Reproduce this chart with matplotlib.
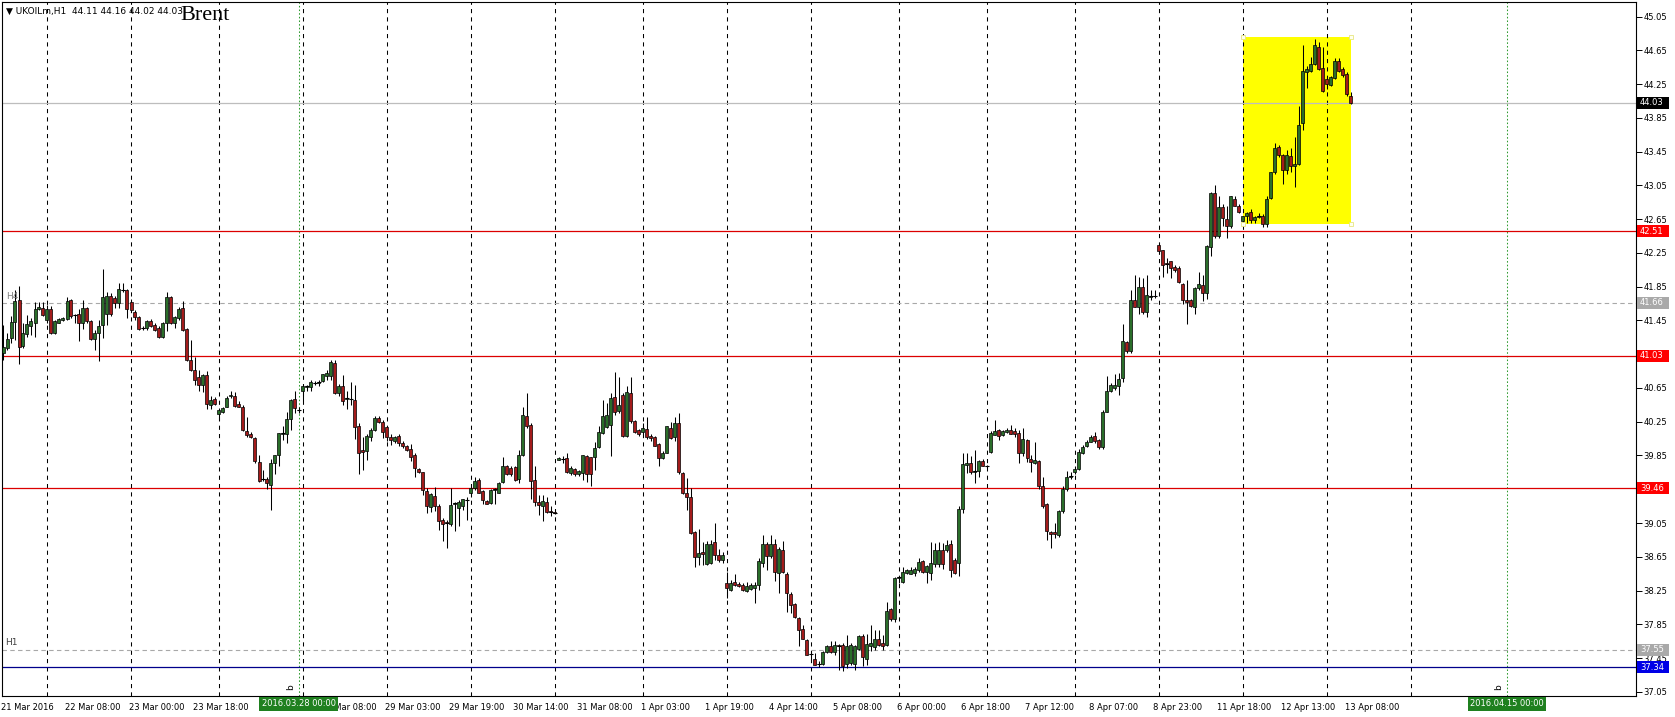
import numpy as np
import matplotlib
matplotlib.use("Agg")
import matplotlib.pyplot as plt
from matplotlib.patches import Rectangle
import matplotlib.transforms as mtransforms

# UKOILm H1 candles, 21 Mar - 13 Apr 2016 (one value per bar)
opens = [
    41.07, 41.12, 41.24, 41.43, 41.69, 41.15, 41.29, 41.39, 41.42, 41.59,
    41.60, 41.46, 41.59, 41.30, 41.42, 41.45, 41.47, 41.69, 41.52, 41.53,
    41.42, 41.60, 41.44, 41.23, 41.30, 41.40, 41.53, 41.74, 41.72, 41.66,
    41.81, 41.81, 41.67, 41.55, 41.49, 41.36, 41.36, 41.44, 41.40, 41.36,
    41.25, 41.42, 41.73, 41.42, 41.48, 41.60, 41.35, 40.98, 40.86, 40.78,
    40.68, 40.80, 40.45, 40.52, 40.34, 40.37, 40.43, 40.55, 40.56, 40.46,
    40.42, 40.14, 40.11, 40.06, 39.77, 39.57, 39.57, 39.50, 39.76, 39.85,
    40.11, 40.11, 40.28, 40.52, 40.39, 40.61, 40.66, 40.66, 40.71, 40.71,
    40.73, 40.79, 40.79, 40.95, 40.59, 40.67, 40.52, 40.52, 40.51, 40.20,
    39.92, 39.90, 40.07, 40.15, 40.29, 40.25, 40.19, 40.07, 40.02, 40.08,
    40.00, 39.96, 39.93, 39.85, 39.69, 39.65, 39.43, 39.24, 39.37, 39.25,
    39.09, 39.06, 39.04, 39.28, 39.23, 39.25, 39.32, 39.40, 39.47, 39.56,
    39.43, 39.31, 39.29, 39.44, 39.41, 39.54, 39.73, 39.70, 39.71, 39.57,
    39.85, 40.32, 40.21, 39.56, 39.30, 39.25, 39.30, 39.19, 39.18, 39.80,
    39.81, 39.82, 39.64, 39.69, 39.63, 39.64, 39.84, 39.83, 39.83, 39.95,
    40.12, 40.19, 40.21, 40.54, 40.38, 40.57, 40.08, 40.59, 40.26, 40.15,
    40.13, 40.16, 40.08, 40.07, 39.99, 39.82, 39.88, 40.18, 40.07, 40.24,
    39.64, 39.41, 39.36, 38.94, 38.65, 38.71, 38.57, 38.58, 38.82, 38.67,
    38.61, 38.34, 38.26, 38.35, 38.33, 38.32, 38.25, 38.27, 38.28, 38.32,
    38.58, 38.80, 38.66, 38.80, 38.46, 38.73, 38.45, 38.21, 38.09, 37.93,
    37.79, 37.66, 37.50, 37.44, 37.38, 37.38, 37.52, 37.59, 37.52, 37.60,
    37.61, 37.38, 37.39, 37.38, 37.56, 37.71, 37.44, 37.59, 37.58, 37.67,
    37.63, 37.61, 38.03, 37.91, 38.40, 38.35, 38.46, 38.45, 38.46, 38.49,
    38.60, 38.47, 38.46, 38.56, 38.56, 38.73, 38.73, 38.80, 38.61, 38.58,
    39.22, 39.74, 39.76, 39.66, 39.67, 39.79, 39.72, 39.89, 40.09, 40.15,
    40.09, 40.13, 40.15, 40.14, 40.12, 39.88, 40.03, 39.81, 39.76, 39.79,
    39.49, 39.27, 38.94, 38.94, 38.91, 39.19, 39.45, 39.60, 39.65, 39.69,
    39.88, 39.96, 40.01, 40.08, 40.03, 39.95, 40.37, 40.61, 40.65, 40.67,
    40.77, 41.19, 41.09, 41.69, 41.61, 41.85, 41.55, 41.73, 41.74, 42.35,
    42.28, 42.13, 42.15, 42.08, 42.07, 41.88, 41.69, 41.69, 41.61, 41.83,
    41.87, 41.77, 42.32, 42.96, 42.45, 42.79, 42.65, 42.57, 42.89, 42.81,
    42.63, 42.69, 42.73, 42.64, 42.68, 42.69, 42.59, 42.90, 43.21, 43.50,
    43.41, 43.23, 43.40, 43.28, 43.31, 43.79, 44.40, 44.41, 44.49, 44.69,
    44.44, 44.31, 44.24, 44.32, 44.53, 44.43, 44.37, 44.11,
]
highs = [
    41.40, 41.30, 41.50, 41.81, 41.86, 41.42, 41.52, 41.48, 41.67, 41.67,
    41.67, 41.63, 41.62, 41.45, 41.48, 41.49, 41.73, 41.70, 41.53, 41.59,
    41.69, 41.61, 41.45, 41.34, 41.46, 42.06, 41.79, 41.77, 41.74, 41.90,
    41.90, 41.82, 41.70, 41.58, 41.50, 41.38, 41.46, 41.47, 41.42, 41.38,
    41.43, 41.79, 41.74, 41.50, 41.61, 41.68, 41.36, 41.22, 41.02, 40.86,
    40.82, 40.85, 40.55, 40.54, 40.41, 40.43, 40.56, 40.61, 40.60, 40.50,
    40.45, 40.31, 40.13, 40.07, 39.85, 39.68, 39.60, 39.81, 39.86, 40.12,
    40.20, 40.37, 40.52, 40.61, 40.42, 40.70, 40.68, 40.74, 40.73, 40.74,
    40.82, 40.86, 40.98, 40.98, 40.70, 40.80, 40.61, 40.72, 40.68, 40.23,
    40.07, 40.11, 40.17, 40.32, 40.32, 40.27, 40.20, 40.11, 40.08, 40.11,
    40.02, 39.98, 39.99, 39.88, 39.70, 39.66, 39.47, 39.40, 39.48, 39.28,
    39.11, 39.09, 39.46, 39.30, 39.32, 39.34, 39.36, 39.48, 39.59, 39.58,
    39.44, 39.32, 39.45, 39.47, 39.54, 39.83, 39.74, 39.72, 39.72, 39.92,
    40.43, 40.59, 40.23, 39.72, 39.38, 39.38, 39.36, 39.25, 39.21, 39.83,
    39.84, 39.88, 39.72, 39.70, 39.68, 39.85, 39.85, 39.83, 40.01, 40.20,
    40.51, 40.47, 40.59, 40.84, 40.78, 40.59, 40.67, 40.78, 40.27, 40.16,
    40.23, 40.31, 40.11, 40.08, 40.00, 39.90, 40.20, 40.25, 40.31, 40.35,
    39.66, 39.58, 39.46, 38.95, 38.98, 38.83, 38.84, 38.85, 39.05, 38.74,
    38.71, 38.47, 38.37, 38.44, 38.35, 38.34, 38.35, 38.34, 38.35, 38.63,
    38.91, 38.83, 38.91, 38.86, 38.77, 38.84, 38.47, 38.23, 38.10, 37.94,
    37.84, 37.67, 37.53, 37.51, 37.41, 37.53, 37.61, 37.65, 37.65, 37.62,
    37.63, 37.72, 37.63, 37.60, 37.72, 37.74, 37.74, 37.84, 37.78, 37.78,
    37.72, 38.11, 38.04, 38.41, 38.42, 38.53, 38.50, 38.53, 38.53, 38.63,
    38.61, 38.55, 38.83, 38.81, 38.83, 38.81, 38.85, 38.85, 38.63, 39.25,
    39.88, 39.88, 39.84, 39.92, 39.80, 39.81, 39.74, 40.14, 40.27, 40.16,
    40.15, 40.17, 40.21, 40.18, 40.15, 40.17, 40.04, 39.85, 40.01, 39.80,
    39.59, 39.29, 38.95, 39.05, 39.21, 39.49, 39.67, 39.65, 39.73, 39.93,
    39.97, 40.03, 40.09, 40.13, 40.05, 40.39, 40.79, 40.71, 40.81, 40.83,
    41.41, 41.21, 41.81, 41.99, 41.97, 41.95, 41.99, 41.81, 41.81, 42.37,
    42.29, 42.19, 42.16, 42.11, 42.09, 41.89, 41.93, 41.71, 41.85, 42.03,
    41.99, 42.35, 42.97, 43.05, 42.93, 42.83, 42.81, 42.93, 42.93, 42.83,
    42.69, 42.73, 42.77, 42.69, 42.72, 42.71, 42.92, 43.21, 43.55, 43.53,
    43.42, 43.47, 43.49, 43.63, 43.99, 44.71, 44.47, 44.57, 44.79, 44.75,
    44.69, 44.33, 44.35, 44.56, 44.56, 44.45, 44.39, 44.16,
]
lows = [
    40.98, 41.10, 41.18, 41.22, 40.93, 41.12, 41.26, 41.28, 41.26, 41.57,
    41.50, 41.42, 41.29, 41.29, 41.42, 41.44, 41.45, 41.48, 41.42, 41.21,
    41.35, 41.42, 41.22, 41.10, 40.97, 41.24, 41.40, 41.50, 41.60, 41.60,
    41.79, 41.48, 41.55, 41.46, 41.34, 41.34, 41.34, 41.37, 41.33, 41.24,
    41.24, 41.33, 41.41, 41.36, 41.45, 41.33, 40.97, 40.85, 40.69, 40.62,
    40.60, 40.40, 40.40, 40.45, 40.27, 40.35, 40.42, 40.53, 40.42, 40.42,
    40.14, 40.07, 40.06, 39.76, 39.54, 39.55, 39.45, 39.20, 39.63, 39.73,
    40.03, 40.00, 40.15, 40.35, 40.35, 40.49, 40.61, 40.62, 40.69, 40.67,
    40.72, 40.75, 40.74, 40.58, 40.55, 40.45, 40.40, 40.45, 40.04, 39.63,
    39.68, 39.80, 40.02, 40.14, 40.24, 40.06, 40.02, 39.98, 40.00, 39.96,
    39.94, 39.90, 39.78, 39.60, 39.64, 39.38, 39.17, 39.18, 39.19, 38.97,
    38.84, 38.75, 39.01, 38.95, 39.01, 39.21, 39.09, 39.36, 39.44, 39.40,
    39.28, 39.27, 39.28, 39.28, 39.40, 39.52, 39.62, 39.61, 39.55, 39.52,
    39.84, 40.18, 39.34, 39.25, 39.14, 39.07, 39.17, 39.13, 39.16, 39.80,
    39.76, 39.64, 39.62, 39.61, 39.61, 39.56, 39.54, 39.49, 39.68, 39.94,
    40.11, 40.17, 39.84, 40.33, 40.35, 40.07, 40.07, 40.23, 40.12, 40.08,
    40.07, 40.04, 40.02, 39.96, 39.72, 39.81, 39.88, 40.04, 40.02, 39.63,
    39.39, 39.21, 38.92, 38.53, 38.55, 38.55, 38.55, 38.57, 38.61, 38.59,
    38.58, 38.16, 38.24, 38.30, 38.29, 38.24, 38.23, 38.26, 38.10, 38.26,
    38.53, 38.49, 38.63, 38.36, 38.22, 38.46, 38.00, 37.98, 37.92, 37.59,
    37.67, 37.48, 37.44, 37.37, 37.34, 37.37, 37.51, 37.51, 37.49, 37.31,
    37.30, 37.33, 37.37, 37.31, 37.55, 37.35, 37.37, 37.53, 37.55, 37.59,
    37.55, 37.59, 37.89, 37.88, 38.34, 38.34, 38.44, 38.44, 38.42, 38.47,
    38.46, 38.34, 38.38, 38.53, 38.53, 38.51, 38.71, 38.41, 38.45, 38.42,
    39.17, 39.64, 39.63, 39.52, 39.60, 39.72, 39.70, 39.88, 40.09, 40.03,
    40.08, 40.12, 40.11, 40.07, 39.76, 39.84, 39.77, 39.65, 39.75, 39.45,
    39.23, 38.85, 38.75, 38.87, 38.89, 39.17, 39.43, 39.57, 39.63, 39.68,
    39.87, 39.95, 40.01, 40.00, 39.93, 39.93, 40.36, 40.60, 40.63, 40.57,
    40.72, 41.07, 41.07, 41.61, 41.53, 41.53, 41.49, 41.69, 41.72, 42.25,
    41.97, 42.01, 41.95, 42.03, 41.89, 41.65, 41.41, 41.61, 41.53, 41.81,
    41.68, 41.71, 42.21, 42.43, 42.43, 42.57, 42.43, 42.55, 42.81, 42.72,
    42.57, 42.61, 42.61, 42.61, 42.67, 42.56, 42.56, 42.89, 43.19, 43.39,
    43.07, 43.19, 43.21, 43.03, 43.29, 43.71, 44.21, 44.40, 44.48, 44.42,
    44.16, 44.19, 44.23, 44.31, 44.40, 44.33, 44.11, 44.02,
]
closes = [
    41.13, 41.23, 41.43, 41.68, 41.14, 41.30, 41.41, 41.44, 41.59, 41.61,
    41.52, 41.59, 41.30, 41.44, 41.47, 41.48, 41.68, 41.50, 41.51, 41.42,
    41.60, 41.44, 41.23, 41.30, 41.39, 41.73, 41.74, 41.53, 41.66, 41.82,
    41.81, 41.59, 41.58, 41.49, 41.35, 41.36, 41.44, 41.39, 41.34, 41.25,
    41.42, 41.73, 41.42, 41.49, 41.59, 41.34, 40.98, 40.86, 40.75, 40.69,
    40.80, 40.46, 40.51, 40.46, 40.39, 40.41, 40.53, 40.57, 40.44, 40.42,
    40.15, 40.09, 40.07, 39.78, 39.55, 39.57, 39.52, 39.76, 39.85, 40.12,
    40.12, 40.28, 40.51, 40.41, 40.39, 40.67, 40.67, 40.72, 40.71, 40.72,
    40.82, 40.83, 40.96, 40.59, 40.67, 40.50, 40.53, 40.52, 40.19, 39.88,
    39.89, 40.08, 40.15, 40.30, 40.25, 40.13, 40.07, 40.03, 40.07, 40.00,
    39.96, 39.91, 39.83, 39.70, 39.65, 39.44, 39.25, 39.39, 39.25, 39.07,
    39.04, 39.05, 39.26, 39.29, 39.30, 39.33, 39.32, 39.46, 39.55, 39.41,
    39.32, 39.28, 39.44, 39.45, 39.53, 39.73, 39.63, 39.63, 39.56, 39.86,
    40.33, 40.20, 39.55, 39.30, 39.26, 39.31, 39.18, 39.18, 39.17, 39.82,
    39.81, 39.66, 39.70, 39.63, 39.67, 39.85, 39.63, 39.63, 39.94, 40.13,
    40.32, 40.33, 40.53, 40.37, 40.45, 40.08, 40.60, 40.26, 40.13, 40.10,
    40.17, 40.07, 40.06, 39.96, 39.82, 39.88, 40.20, 40.06, 40.24, 39.65,
    39.40, 39.36, 38.93, 38.65, 38.70, 38.68, 38.80, 38.80, 38.67, 38.61,
    38.67, 38.28, 38.34, 38.32, 38.30, 38.26, 38.30, 38.32, 38.32, 38.60,
    38.80, 38.66, 38.80, 38.47, 38.74, 38.47, 38.22, 38.08, 37.94, 37.78,
    37.67, 37.49, 37.50, 37.37, 37.38, 37.52, 37.59, 37.52, 37.61, 37.59,
    37.36, 37.59, 37.61, 37.59, 37.71, 37.46, 37.62, 37.63, 37.67, 37.61,
    37.59, 38.01, 37.91, 38.40, 38.41, 38.47, 38.49, 38.49, 38.50, 38.59,
    38.47, 38.54, 38.58, 38.73, 38.73, 38.56, 38.79, 38.49, 38.46, 39.22,
    39.75, 39.76, 39.66, 39.67, 39.78, 39.72, 39.73, 40.12, 40.14, 40.08,
    40.14, 40.15, 40.11, 40.11, 39.88, 40.04, 39.82, 39.77, 39.80, 39.49,
    39.25, 38.95, 38.92, 38.92, 39.19, 39.45, 39.59, 39.61, 39.69, 39.89,
    39.95, 40.01, 40.07, 40.02, 39.95, 40.37, 40.61, 40.69, 40.69, 40.76,
    41.21, 41.09, 41.69, 41.61, 41.85, 41.55, 41.75, 41.74, 41.74, 42.27,
    42.11, 42.12, 42.07, 42.05, 41.91, 41.69, 41.67, 41.62, 41.83, 41.88,
    41.77, 42.33, 42.96, 42.45, 42.79, 42.67, 42.57, 42.92, 42.81, 42.73,
    42.69, 42.72, 42.64, 42.68, 42.69, 42.59, 42.89, 43.21, 43.49, 43.41,
    43.23, 43.41, 43.28, 43.31, 43.77, 44.41, 44.43, 44.49, 44.71, 44.43,
    44.17, 44.25, 44.33, 44.52, 44.41, 44.36, 44.13, 44.03,
]

# time axis labels (every 16 bars) and first bar of each trading day
label_bars = [0, 16, 32, 48, 64, 80, 96, 112, 128, 144, 160, 176, 192, 208,
              224, 240, 256, 272, 288, 304, 320, 336]
time_labels = ["21 Mar 2016", "22 Mar 08:00", "23 Mar 00:00", "23 Mar 18:00",
               "24 Mar 13:00", "28 Mar 08:00", "29 Mar 03:00", "29 Mar 19:00",
               "30 Mar 14:00", "31 Mar 08:00", "1 Apr 03:00", "1 Apr 19:00",
               "4 Apr 14:00", "5 Apr 08:00", "6 Apr 00:00", "6 Apr 18:00",
               "7 Apr 12:00", "8 Apr 07:00", "8 Apr 23:00", "11 Apr 18:00",
               "12 Apr 13:00", "13 Apr 08:00"]
day_starts = [11, 32, 54, 75, 96, 117, 138, 160, 181, 202, 224, 246, 268,
              289, 310, 331, 352]
price_ticks = [37.05, 37.45, 37.85, 38.25, 38.65, 39.05, 39.45, 39.85, 40.25,
               40.65, 41.05, 41.45, 41.85, 42.25, 42.65, 43.05, 43.45, 43.85,
               44.25, 44.65, 45.05]

# levels
red_levels = [42.51, 41.03, 39.46]
support_level = 37.34
h4_level = 41.66
h1_level = 37.55
bid = 44.03
# yellow box (bars, prices)
box_bars = [310, 337]
box_prices = [42.59, 44.81]
# vertical date markers
marker_bars = [74, 376]
marker_texts = ["2016.03.28 00:00", "2016.04.15 00:00"]

W, H = 1675, 717
fig = plt.figure(figsize=(W / 100, H / 100), dpi=100)
ax = fig.add_axes([2 / W, 21 / H, 1634 / W, 694 / H])
ax.set_xlim(-0.25, 408.25)
ax.set_ylim(37.0, 45.224)

# yellow rectangle
ax.add_patch(Rectangle((box_bars[0], box_prices[0]), box_bars[1] - box_bars[0],
                       box_prices[1] - box_prices[0], fc="#ffff00", ec="none", zorder=1))
ax.plot([box_bars[0], box_bars[1], box_bars[0], box_bars[1]],
        [box_prices[0], box_prices[0], box_prices[1], box_prices[1]],
        "s", ms=3, mfc="#fffff0", mec="#e6e680", mew=0.6, zorder=6)

# day grid
for d in day_starts:
    ax.axvline(d, color="black", lw=0.75, ls=(0, (4, 4)), zorder=2)
for m in marker_bars:
    ax.axvline(m, color="#2e9a2e", lw=0.75, ls=(0, (1.5, 2)), zorder=2)

# horizontal levels
for lv in red_levels:
    ax.axhline(lv, color="#dc0000", lw=0.9, zorder=2)
ax.axhline(support_level, color="#00008b", lw=0.9, zorder=2)
ax.axhline(h4_level, color="#a8a8a8", lw=0.8, ls=(0, (4, 3)), zorder=2)
ax.axhline(h1_level, color="#a8a8a8", lw=0.8, ls=(0, (4, 3)), zorder=2)
ax.axhline(bid, color="#bdbdbd", lw=0.9, zorder=2)

# candles
o = np.array(opens); h = np.array(highs); l = np.array(lows); c = np.array(closes)
x = np.arange(len(o))
ax.vlines(x, l, h, color="black", lw=0.75, zorder=3)
up = c >= o
cols = np.where(up, "#2a6e2a", "#a31b1b")
ax.bar(x, np.abs(c - o), bottom=np.minimum(o, c), width=0.75, color=cols,
       edgecolor="black", linewidth=0.5, zorder=4)
flat = np.abs(c - o) < 0.015
ax.hlines(c[flat], x[flat] - 0.45, x[flat] + 0.45, color="black", lw=0.8, zorder=5)

# price boxes on the right (fixed-size boxes covering the tick labels)
ytr = ax.get_yaxis_transform()
box_w = 32 / 1634
box_h = 12 / 84.4
box_levels = [bid, h4_level, h1_level, support_level] + red_levels

# axes styling
for s in ax.spines.values():
    s.set_color("black")
    s.set_linewidth(0.8)
ax.yaxis.tick_right()
ax.set_yticks(price_ticks)
# labels that sit fully under a price box are not visible in the terminal
ax.set_yticklabels(["" if min(abs(v - b) for b in box_levels) < 0.04 else f"{v:.2f}"
                    for v in price_ticks])
ax.tick_params(axis="y", length=4, width=0.7, pad=1.5, labelsize=6, colors="black")
ax.set_xticks(label_bars)
# the label under the 2016.03.28 marker box is hidden
ax.set_xticklabels(["" if b == 64 else t for b, t in zip(label_bars, time_labels)],
                   ha="left")
ax.tick_params(axis="x", length=0, pad=5, labelsize=6)
off = mtransforms.ScaledTranslation(-2 / 100, 0, fig.dpi_scale_trans)
for t in ax.get_xticklabels():
    t.set_transform(t.get_transform() + off)


def price_box(level, fc):
    ax.add_patch(Rectangle((1.0006, level - box_h / 2), box_w, box_h,
                           transform=ytr, fc=fc, ec="none", clip_on=False, zorder=9))
    ax.text(1.0006 + 3 / 1634, level, f"{level:.2f}", transform=ytr,
            ha="left", va="center", fontsize=6, color="white", clip_on=False,
            zorder=10)


price_box(bid, "black")
for lv in red_levels:
    price_box(lv, "#ff0000")
price_box(h4_level, "#a9a9a9")
price_box(h1_level, "#a9a9a9")
price_box(support_level, "#0000e6")

# date markers below
xt = mtransforms.blended_transform_factory(ax.transData, ax.transAxes)
for m, txt in zip(marker_bars, marker_texts):
    ax.text(m, -0.005, txt, transform=xt, ha="center", va="top", fontsize=6,
            color="white", clip_on=False, zorder=10,
            bbox=dict(boxstyle="square,pad=0.3", fc="#1f801f", ec="none"))
    ax.text(m - 2, 37.1, "b", rotation=90, fontsize=6.5, color="black",
            ha="center", va="center", zorder=6)

# labels inside
ax.text(0.8, 41.74, "H4", fontsize=6.5, color="#808080", va="center", ha="left",
        zorder=8)
ax.text(0.6, 37.63, "H1", fontsize=6.5, color="#404040", va="center", ha="left",
        zorder=8)
fig.text(6 / W, 1 - 11 / H, "\u25bc UKOILm,H1  44.11 44.16 44.02 44.03",
         fontsize=6.5, va="center", ha="left")
fig.text(180 / W, 1 - 15 / H, "Brent", family="Liberation Serif", fontsize=16,
         va="center", ha="left")

fig.savefig("out.png", dpi=100)
